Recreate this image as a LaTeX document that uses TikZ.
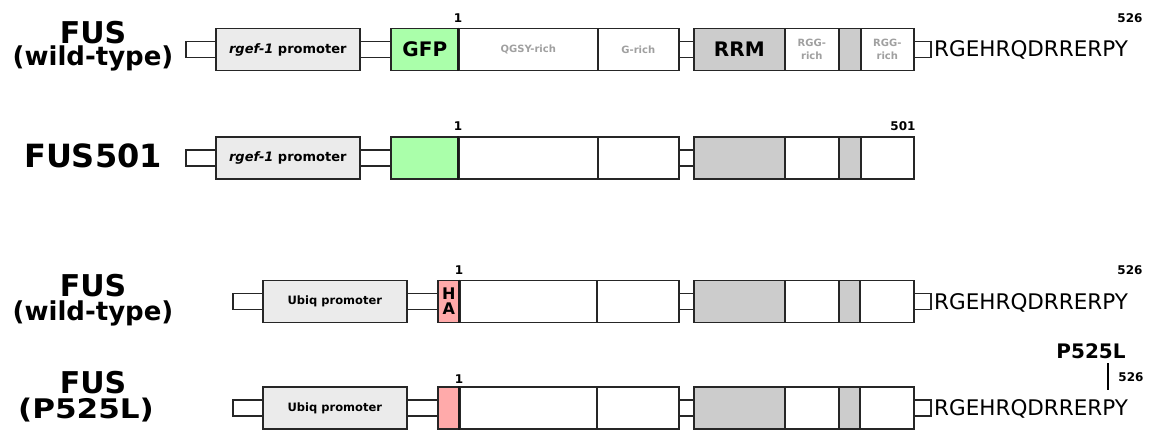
\documentclass[tikz,border=0pt]{standalone}
\usepackage{fontspec}
\setmainfont{DejaVu Sans}
\definecolor{promo}{HTML}{EBEBEB}
\definecolor{gfp}{HTML}{AAFFAA}
\definecolor{hatag}{HTML}{FFAAAA}
\definecolor{domgray}{HTML}{CCCCCC}
\definecolor{lblgray}{HTML}{A0A0A0}
\newcommand\fsz[1]{\fontsize{#1}{#1}\selectfont}
\begin{document}
\begin{tikzpicture}[x=1pt,y=-1pt,
  seg/.style={draw=black!85, line width=1.6pt, inner sep=0pt, anchor=west, minimum height=42pt},
  link/.style={seg, minimum height=16pt},
  dlabel/.style={font=\bfseries\fontsize{10}{13}\selectfont, text=lblgray, align=center},
  poslbl/.style={font=\bfseries\fsz{12}, anchor=base, inner sep=0pt},
  titlelbl/.style={font=\bfseries\fsz{30}, anchor=base, inner sep=0pt},
  sublbl/.style={font=\bfseries\fsz{26}, anchor=base, inner sep=0pt},
  tailtxt/.style={font=\fsz{21.5}, anchor=base west, inner sep=0pt},
  tagline/.style={line width=2.2pt, draw=black!90}]
\useasboundingbox (0,0) rectangle (1153,435);

% ---------- Row 1: FUS wild-type (GFP) ----------
\node[titlelbl] (n1a) at (93,43.5) {FUS};
\node[sublbl] (n1b) at (93,66) {(wild-type)};
\node[link, minimum width=30] (l1) at (185,49.5) {};
\node[seg, fill=promo, minimum width=144, font=\bfseries\fsz{13}] (p1) at (215,49.5) {\textit{rgef-1} promoter};
\node[link, minimum width=31] (c1) at (359,49.5) {};
\node[seg, fill=gfp, minimum width=68, font=\bfseries\fsz{20}] (g1) at (390,49.5) {GFP};
\node[seg, minimum width=139] (q1) at (458,49.5) {};
\node[dlabel] (q1t) at (q1.center) {QGSY-rich};
\node[seg, minimum width=81] (gr1) at (597,49.5) {};
\node[dlabel] (gr1t) at (gr1.center) {G-rich};
\node[link, minimum width=15] (k1) at (678,49.5) {};
\node[seg, fill=domgray, minimum width=91, font=\bfseries\fsz{20}] (r1) at (693,49.5) {RRM};
\node[seg, minimum width=54] (a1) at (784,49.5) {};
\node[dlabel] (a1t) at (a1.center) {RGG-\\rich};
\node[seg, fill=domgray, minimum width=22] (s1) at (838,49.5) {};
\node[seg, minimum width=53] (b1) at (860,49.5) {};
\node[dlabel] (b1t) at (b1.center) {RGG-\\rich};
\node[link, minimum width=17] (e1) at (913,49.5) {};
\node[tailtxt] (t1) at (934,57) {RGEHRQDRRERPY};
\draw[tagline] (q1.north west) -- (q1.south west);
\node[poslbl] (one1) at (458,23) {1};
\node[poslbl] (end1) at (1130,23) {526};

% ---------- Row 2: FUS501 ----------
\node[font=\bfseries\fsz{32}, anchor=base, inner sep=0pt] (n2) at (93,168) {FUS501};
\node[link, minimum width=30] (l2) at (185,158) {};
\node[seg, fill=promo, minimum width=144, font=\bfseries\fsz{13}] (p2) at (215,158) {\textit{rgef-1} promoter};
\node[link, minimum width=31] (c2) at (359,158) {};
\node[seg, fill=gfp, minimum width=68] (g2) at (390,158) {};
\node[seg, minimum width=139] (q2) at (458,158) {};
\node[seg, minimum width=81] (gr2) at (597,158) {};
\node[link, minimum width=15] (k2) at (678,158) {};
\node[seg, fill=domgray, minimum width=91] (r2) at (693,158) {};
\node[seg, minimum width=54] (a2) at (784,158) {};
\node[seg, fill=domgray, minimum width=22] (s2) at (838,158) {};
\node[seg, minimum width=53] (b2) at (860,158) {};
\draw[tagline] (q2.north west) -- (q2.south west);
\node[poslbl] (one2) at (458,131) {1};
\node[poslbl] (end2) at (903,131) {501};

% ---------- Row 3: FUS wild-type (HA) ----------
\node[titlelbl] (n3a) at (93,296.5) {FUS};
\node[sublbl] (n3b) at (93,320) {(wild-type)};
\node[link, minimum width=30] (l3) at (232,301.5) {};
\node[seg, fill=promo, minimum width=144, font=\bfseries\fsz{11.5}] (p3) at (262,301.5) {Ubiq promoter};
\node[link, minimum width=31] (c3) at (406,301.5) {};
\node[seg, fill=hatag, minimum width=22, font=\bfseries\fsz{16}, align=center] (h3) at (437,301.5) {H\\[-1pt]A};
\node[seg, minimum width=137] (q3) at (459,301.5) {};
\node[seg, minimum width=82] (gr3) at (596,301.5) {};
\node[link, minimum width=15] (k3) at (678,301.5) {};
\node[seg, fill=domgray, minimum width=91] (r3) at (693,301.5) {};
\node[seg, minimum width=54] (a3) at (784,301.5) {};
\node[seg, fill=domgray, minimum width=21] (s3) at (838,301.5) {};
\node[seg, minimum width=54] (b3) at (859,301.5) {};
\node[link, minimum width=17] (e3) at (913,301.5) {};
\node[tailtxt] (t3) at (934,309) {RGEHRQDRRERPY};
\draw[tagline] (q3.north west) -- (q3.south west);
\node[poslbl] (one3) at (459,275) {1};
\node[poslbl] (end3) at (1130,275) {526};

% ---------- Row 4: FUS P525L ----------
\node[titlelbl] (n4a) at (93,393) {FUS};
\node[sublbl, font=\bfseries\fsz{27}] (n4b) at (86,418) {\scalebox{1.15}[1]{(P525L)}};
\node[link, minimum width=30] (l4) at (232,408) {};
\node[seg, fill=promo, minimum width=144, font=\bfseries\fsz{11.5}] (p4) at (262,408) {Ubiq promoter};
\node[link, minimum width=31] (c4) at (406,408) {};
\node[seg, fill=hatag, minimum width=22] (h4) at (437,408) {};
\node[seg, minimum width=137] (q4) at (459,408) {};
\node[seg, minimum width=82] (gr4) at (596,408) {};
\node[link, minimum width=15] (k4) at (678,408) {};
\node[seg, fill=domgray, minimum width=91] (r4) at (693,408) {};
\node[seg, minimum width=54] (a4) at (784,408) {};
\node[seg, fill=domgray, minimum width=21] (s4) at (838,408) {};
\node[seg, minimum width=54] (b4) at (859,408) {};
\node[link, minimum width=17] (e4) at (913,408) {};
\node[tailtxt] (t4) at (934,415) {RGEHRQDRRERPY};
\draw[tagline] (q4.north west) -- (q4.south west);
\node[poslbl] (one4) at (459,383) {1};
\node[poslbl] (end4) at (1131,381) {526};
\node[font=\bfseries\fsz{20}, anchor=base, inner sep=0pt] (mut) at (1091,358) {P525L};
\coordinate (mtop) at (1108,363);
\coordinate (mbot) at (1108,390);
\draw[line width=2pt] (mtop) -- (mbot);
\end{tikzpicture}
\end{document}
